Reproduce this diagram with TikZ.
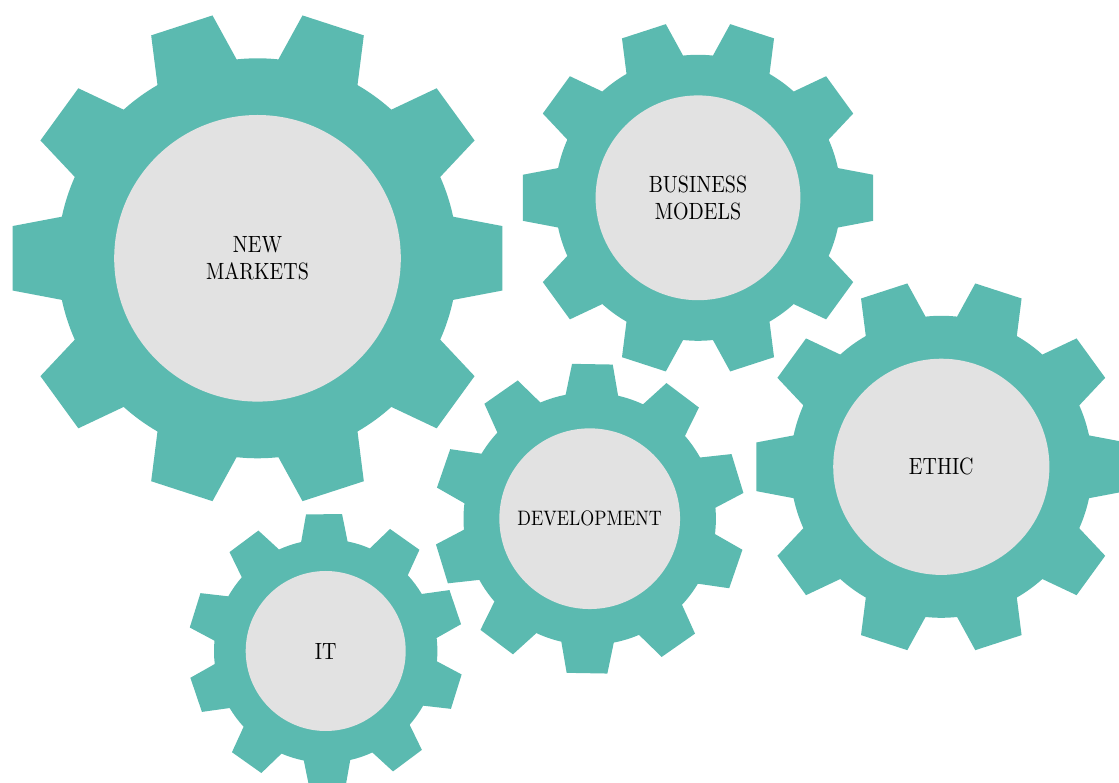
\documentclass[tikz,border=0pt]{standalone}
\usepackage{fontspec}
\definecolor{gearteal}{HTML}{5BBAB0}
\definecolor{hubgray}{HTML}{E2E2E2}
% ten tapered teeth on a round body; #1 centre, #2 body radius, #3 rotation
\newcommand\cogwheel[3]{%
  \begin{scope}[shift={#1}]
    \fill[gearteal] ({#3-12}:#2)
      \foreach \k in {0,...,9}{
        -- ({#3+36*\k-7.5}:{1.235*#2})
        -- ({#3+36*\k+7.5}:{1.235*#2})
        -- ({#3+36*\k+12}:#2)
        arc[start angle={#3+36*\k+12}, end angle={#3+36*\k+24}, radius=#2]
      } -- cycle;
  \end{scope}}
\tikzset{
  hub/.style={circle, fill=hubgray, inner sep=0pt, minimum size=#1},
  gearlabel/.style={align=center, xscale=2.0, yscale=2.35, font=\fontsize{10}{11.5}\selectfont},
  smalllabel/.style={align=center, xscale=1.8, yscale=2.09, font=\fontsize{10}{11.5}\selectfont}
}
\begin{document}
\begin{tikzpicture}[x=1pt, y=1pt]
  \useasboundingbox (0,0) rectangle (1119,782);
  \clip (0,0) rectangle (1119,782);
  \fill[white] (0,0) rectangle (1119,782);

  % gear bodies
  \cogwheel{(257.5,523.7)}{200}{0}
  \cogwheel{(698,584.2)}{143}{0}
  \cogwheel{(941.3,315.2)}{151}{0}
  \cogwheel{(589.7,263.3)}{126.2}{17}
  \cogwheel{(325.7,131)}{111.7}{18.7}

  % hubs
  \node[hub=286.6pt] (markets) at (257.5,523.7) {};
  \node[hub=204.8pt] (business) at (698,584.2) {};
  \node[hub=216.2pt] (ethic) at (941.3,315.2) {};
  \node[hub=180.7pt] (development) at (589.7,263.3) {};
  \node[hub=160pt] (it) at (325.7,131) {};

  % labels
  \node[gearlabel] (tmarkets) at (markets.center) {NEW\\MARKETS};
  \node[gearlabel] (tbusiness) at (business.center) {BUSINESS\\MODELS};
  \node[gearlabel] (tethic) at (ethic.center) {ETHIC};
  \node[smalllabel] (tdev) at (development.center) {DEVELOPMENT};
  \node[gearlabel] (tit) at (it.center) {IT};
\end{tikzpicture}
\end{document}
